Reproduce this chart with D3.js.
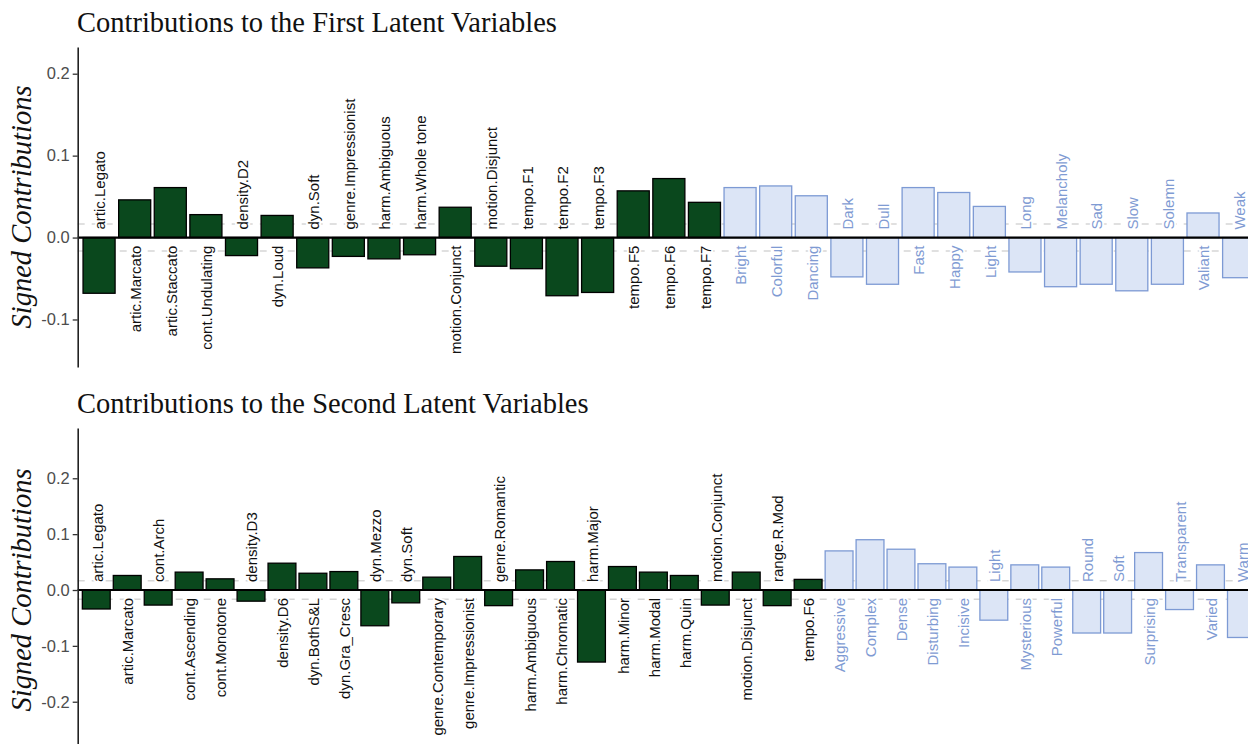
<!DOCTYPE html>
<html><head><meta charset="utf-8">
<script src="https://cdn.jsdelivr.net/npm/d3@7"></script>
<style>body{margin:0;background:#fff}svg{display:block}</style>
</head><body>
<svg id="chart" width="1248" height="744"></svg>
<script>
// ---------- DATA ----------
const titles = ["Contributions to the First Latent Variables", "Contributions to the Second Latent Variables"];
const yTitle = "Signed Contributions";

const features1 = ["artic.Legato","artic.Marcato","artic.Staccato","cont.Undulating","density.D2","dyn.Loud","dyn.Soft","genre.Impressionist","harm.Ambiguous","harm.Whole tone","motion.Conjunct","motion.Disjunct","tempo.F1","tempo.F2","tempo.F3","tempo.F5","tempo.F6","tempo.F7"];
const featureVals1 = [-0.068,0.046,0.061,0.028,-0.022,0.027,-0.037,-0.023,-0.026,-0.021,0.037,-0.035,-0.038,-0.071,-0.067,0.057,0.072,0.043];
const adjectives1 = ["Bright","Colorful","Dancing","Dark","Dull","Fast","Happy","Light","Long","Melancholy","Sad","Slow","Solemn","Valiant","Weak"];
const adjectiveVals1 = [0.061,0.063,0.051,-0.048,-0.057,0.061,0.055,0.038,-0.042,-0.060,-0.057,-0.065,-0.057,0.030,-0.049];

const features2 = ["artic.Legato","artic.Marcato","cont.Arch","cont.Ascending","cont.Monotone","density.D3","density.D6","dyn.BothS&L","dyn.Gra_Cresc","dyn.Mezzo","dyn.Soft","genre.Contemporary","genre.Impressionist","genre.Romantic","harm.Ambiguous","harm.Chromatic","harm.Major","harm.Minor","harm.Modal","harm.Quin","motion.Conjunct","motion.Disjunct","range.R.Mod","tempo.F6"];
const featureVals2 = [-0.034,0.026,-0.027,0.032,0.020,-0.020,0.048,0.030,0.033,-0.064,-0.023,0.023,0.060,-0.028,0.036,0.051,-0.129,0.042,0.032,0.026,-0.027,0.032,-0.028,0.019];
const adjectives2 = ["Aggressive","Complex","Dense","Disturbing","Incisive","Light","Mysterious","Powerful","Round","Soft","Surprising","Transparent","Varied","Warm"];
const adjectiveVals2 = [0.070,0.090,0.073,0.047,0.041,-0.054,0.045,0.041,-0.077,-0.077,0.067,-0.035,0.045,-0.085];

const threshold = 0.0165;
const tickVals1 = [-0.1, 0, 0.1, 0.2];
const tickLabels1 = ["-0.1","0.0","0.1","0.2"];
const tickVals2 = [-0.2, -0.1, 0, 0.1, 0.2];
const tickLabels2 = ["-0.2","-0.1","0.0","0.1","0.2"];
const yDomain1 = [-0.158, 0.2326];
const yDomain2 = [-0.29, 0.29];

// ---------- STYLE ----------
const GREEN = "#0a481d", BLUE_FILL = "#dce5f6", BLUE_STROKE = "#7d9ad4", BLUE_TEXT = "#7f9bd3";
const svg = d3.select("#chart");
const xLeft = 77.7, xRight = 1260;

function panel(opt){
  const g = svg.append("g");
  const rows = opt.features.map((n,i)=>({name:n, v:opt.fvals[i], kind:"f"}))
    .concat(opt.adjs.map((n,i)=>({name:n, v:opt.avals[i], kind:"a"})));
  const key = d=>d.name+"|"+d.kind;
  const x = d3.scaleBand().domain(rows.map(key)).range([xLeft, xRight])
      .paddingInner(0.1).paddingOuter(0.15);
  const y = d3.scaleLinear().domain(opt.yDomain).range(opt.yRange);

  // title
  svg.append("text").attr("x", 77).attr("y", opt.titleY)
    .attr("font-family","'Liberation Serif','Times New Roman',serif").attr("font-size",28.5)
    .attr("fill","#111").text(opt.title);
  // y title
  const cy = (opt.yRange[0]+opt.yRange[1])/2;
  svg.append("text").attr("transform",`translate(31,${cy}) rotate(-90)`)
    .attr("text-anchor","middle").attr("font-family","'Liberation Serif','Times New Roman',serif")
    .attr("font-style","italic").attr("font-size",28.5).attr("fill","#111").text(yTitle);

  // dashed threshold lines
  [threshold, -threshold].forEach(t=>{
    g.append("line").attr("x1",xLeft).attr("x2",1248).attr("y1",y(t)).attr("y2",y(t))
      .attr("stroke","#d6d6d6").attr("stroke-width",1.5).attr("stroke-dasharray","7,7");
  });

  // bars
  g.selectAll("rect.bar").data(rows).join("rect").attr("class","bar")
    .attr("x", d=>x(key(d))).attr("width", x.bandwidth())
    .attr("y", d=>y(Math.max(0,d.v))).attr("height", d=>Math.abs(y(d.v)-y(0)))
    .attr("fill", d=>d.kind==="f"?GREEN:BLUE_FILL)
    .attr("stroke", d=>d.kind==="f"?"#000":BLUE_STROKE).attr("stroke-width",1.3);

  // zero line
  g.append("line").attr("x1",xLeft).attr("x2",1248).attr("y1",y(0)).attr("y2",y(0))
    .attr("stroke","#000").attr("stroke-width",2.2);

  // labels
  const y0 = y(0);
  g.selectAll("text.lab").data(rows).join("text").attr("class","lab")
    .attr("transform", d=>`translate(${x(key(d))+x.bandwidth()/2+1},${d.v>=0? y0+8 : y0-8}) rotate(-90)`)
    .attr("text-anchor", d=>d.v>=0?"end":"start")
    .attr("dy","0.35em")
    .attr("font-family","'Liberation Sans',Arial,sans-serif").attr("font-size",15)
    .attr("fill", d=>d.kind==="f"?"#111":BLUE_TEXT)
    .attr("stroke","#fff").attr("stroke-width",4).attr("paint-order","stroke")
    .text(d=>d.name);

  // axis
  const ax = g.append("g").attr("transform",`translate(${xLeft},0)`)
    .call(d3.axisLeft(y).tickValues(opt.ticks).tickSize(5).tickSizeOuter(0).tickPadding(3)
      .tickFormat((d,i)=>opt.tickLabels[i]));
  ax.select(".domain").attr("stroke","#222").attr("stroke-width",1.6);
  ax.selectAll(".tick line").attr("stroke","#333").attr("stroke-width",1.3);
  ax.selectAll(".tick text").attr("font-family","'Liberation Sans',Arial,sans-serif")
    .attr("font-size",16.5).attr("fill","#4d4d4d");
}

panel({title:titles[0], titleY:32, yDomain:yDomain1, yRange:[367,47],
  ticks:tickVals1, tickLabels:tickLabels1,
  features:features1, fvals:featureVals1, adjs:adjectives1, avals:adjectiveVals1});
panel({title:titles[1], titleY:413, yDomain:yDomain2, yRange:[752,428],
  ticks:tickVals2, tickLabels:tickLabels2,
  features:features2, fvals:featureVals2, adjs:adjectives2, avals:adjectiveVals2});
</script>
</body></html>
